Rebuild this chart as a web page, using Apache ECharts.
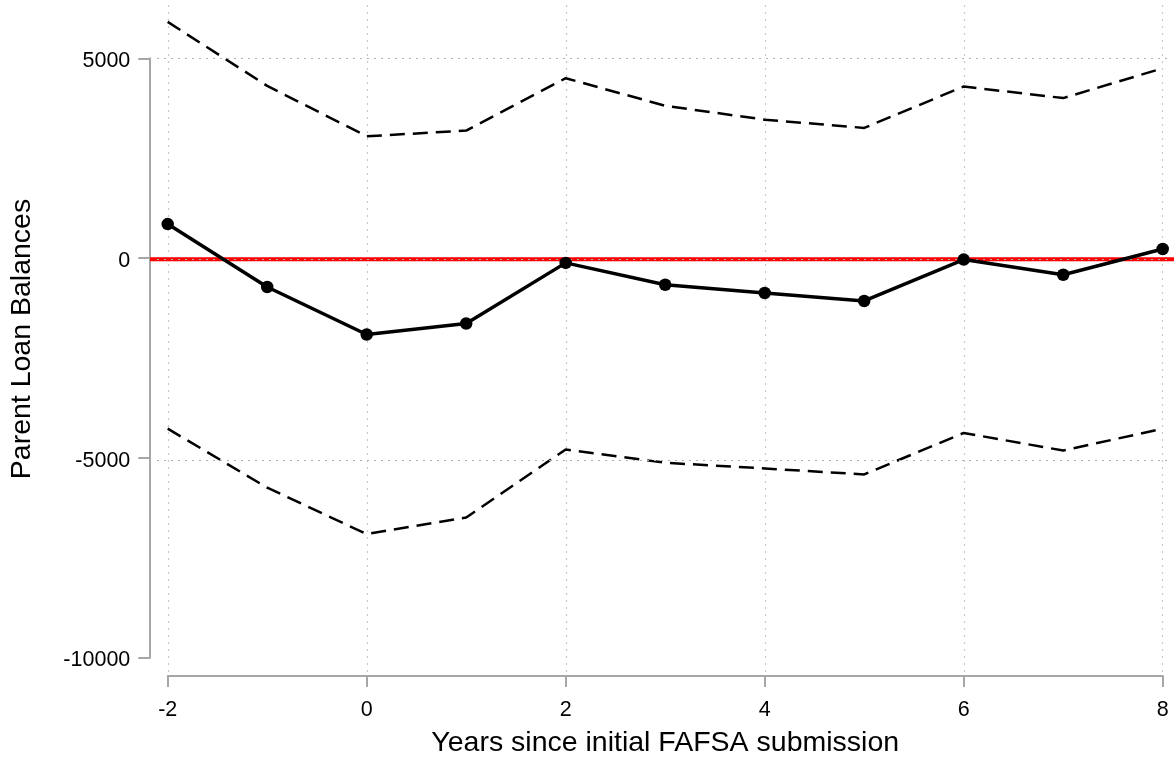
<!DOCTYPE html>
<html>
<head>
<meta charset="utf-8">
<script src="https://cdn.jsdelivr.net/npm/echarts@6/dist/echarts.min.js"></script>
<style>
  html, body { margin: 0; padding: 0; background: #fff; }
  #chart { width: 1174px; height: 763px; }
</style>
</head>
<body>
<div id="chart"></div>
<script>
// ---- data ----
const years = [-2, -1, 0, 1, 2, 3, 4, 5, 6, 7, 8];
const estimate = [853, -721, -1908, -1634, -117, -664, -871, -1070, -35, -415, 231];
const upperCI = [5910, 4310, 3050, 3192, 4502, 3813, 3465, 3259, 4294, 4005, 4751];
const lowerCI = [-4264, -5739, -6900, -6485, -4786, -5117, -5259, -5408, -4371, -4811, -4264];
const referenceValue = 0;
const xTickStep = 2;
const yTickStep = 5000;
const xTitle = 'Years since initial FAFSA submission';
const yTitle = 'Parent Loan Balances';

const pairs = (xs, ys) => xs.map((x, i) => [x, ys[i]]);

const FONT = "'Liberation Sans', Arial, sans-serif";
const AXIS_GRAY = '#a6a6a6';
const GRID_GRAY = '#c8c8c8';

const chart = echarts.init(document.getElementById('chart'), null, { renderer: 'canvas' });

const hiddenAxis = (gridIndex, extra) => Object.assign({
  gridIndex, type: 'value',
  axisLine: { show: false, onZero: false }, axisTick: { show: false }, axisLabel: { show: false },
  splitLine: { show: false }
}, extra);

const option = {
  animation: false,
  backgroundColor: '#ffffff',
  textStyle: { fontFamily: FONT },
  grid: [
    // 0: data grid (y from -10000 to 5000, x from -2 to 8)
    { left: 167.7, right: 11.3, top: 58.3, bottom: 101.7 },
    // 1: vertical gridlines + y title (plot region height)
    { left: 167.7, right: 11.3, top: 5, bottom: 90 },
    // 2: horizontal gridlines (plot region width)
    { left: 157, right: 2, top: 58.3, bottom: 302.7 },
    // 3: red reference line
    { left: 150, right: 0, top: 58.3, bottom: 302.7 }
  ],
  xAxis: [
    {
      gridIndex: 0, type: 'value', min: years[0], max: years[years.length - 1], interval: xTickStep,
      position: 'bottom', offset: 18,
      axisLine: { show: true, onZero: false, lineStyle: { color: AXIS_GRAY, width: 2 } },
      axisTick: { show: true, length: 11, lineStyle: { color: AXIS_GRAY, width: 2 } },
      axisLabel: { show: true, margin: 23, color: '#000', fontSize: 21.5, fontFamily: FONT,
                   formatter: v => String(v) },
      splitLine: { show: false },
      name: xTitle, nameLocation: 'middle', nameGap: 53,
      nameTextStyle: { color: '#000', fontSize: 28.5, fontFamily: FONT }
    },
    hiddenAxis(1, {
      min: years[0], max: years[years.length - 1], interval: xTickStep,
      splitLine: { show: true, lineStyle: { color: GRID_GRAY, width: 1.2, type: [2, 5] } }
    }),
    hiddenAxis(2, { min: 0, max: 1 }),
    hiddenAxis(3, { min: 0, max: 1 })
  ],
  yAxis: [
    {
      gridIndex: 0, type: 'value', min: -10000, max: 5000, interval: yTickStep,
      position: 'left', offset: 18.4,
      axisLine: { show: true, onZero: false, lineStyle: { color: AXIS_GRAY, width: 2 } },
      axisTick: { show: true, length: 11, lineStyle: { color: AXIS_GRAY, width: 2 } },
      axisLabel: { show: true, margin: 19, color: '#000', fontSize: 21.5, fontFamily: FONT,
                   verticalAlign: 'top', lineHeight: 5,
                   formatter: v => String(v) },
      splitLine: { show: false }
    },
    hiddenAxis(1, {
      min: 0, max: 1,
      name: yTitle, nameLocation: 'middle', nameGap: 131,
      nameTextStyle: { color: '#000', fontSize: 28.5, fontFamily: FONT }
    }),
    hiddenAxis(2, {
      min: -yTickStep, max: yTickStep, interval: yTickStep, z: 5,
      splitLine: { show: true, lineStyle: { color: '#b0b0b0', width: 1.2, type: [2, 5] } }
    }),
    hiddenAxis(3, { min: -yTickStep, max: yTickStep })
  ],
  series: [
    {
      type: 'line', xAxisIndex: 3, yAxisIndex: 3, z: 1,
      data: [[0, referenceValue], [1, referenceValue]],
      showSymbol: false, silent: true,
      lineStyle: { color: '#ff0000', width: 4 }
    },
    {
      type: 'line', xAxisIndex: 0, yAxisIndex: 0, clip: false,
      data: pairs(years, upperCI), showSymbol: false, silent: true,
      lineStyle: { color: '#000', width: 2.5, type: [15, 8] }
    },
    {
      type: 'line', xAxisIndex: 0, yAxisIndex: 0, clip: false,
      data: pairs(years, lowerCI), showSymbol: false, silent: true,
      lineStyle: { color: '#000', width: 2.5, type: [15, 8] }
    },
    {
      type: 'line', xAxisIndex: 0, yAxisIndex: 0, clip: false, z: 6,
      data: pairs(years, estimate), symbol: 'circle', symbolSize: 12.5, showSymbol: true, silent: true,
      lineStyle: { color: '#000', width: 3.5 },
      itemStyle: { color: '#000' }
    }
  ]
};

chart.setOption(option);
</script>
</body>
</html>
